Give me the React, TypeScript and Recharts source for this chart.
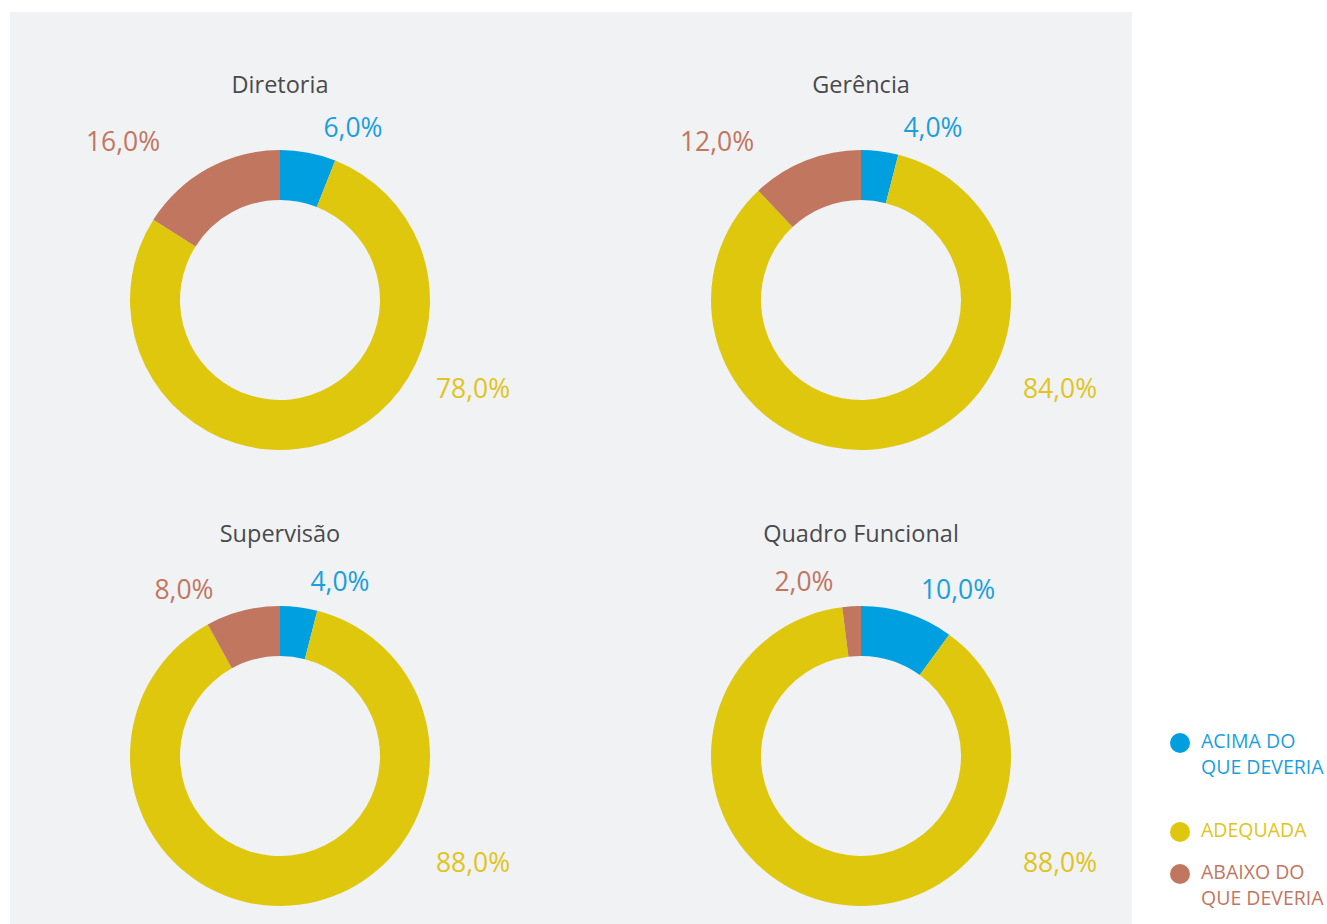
import { PieChart, Pie, Cell } from 'recharts';

// Share of each group, in percent: acima / adequada / abaixo
const categories = ['ACIMA DO QUE DEVERIA', 'ADEQUADA', 'ABAIXO DO QUE DEVERIA'];
const groups = ['Diretoria', 'Gerência', 'Supervisão', 'Quadro Funcional'];
const acima = [6, 4, 4, 10];
const adequada = [78, 84, 88, 88];
const abaixo = [16, 12, 8, 2];

const COLORS = ['#00a0e0', '#dfc70e', '#c1765f'];
const LABEL_COLORS = ['#1a9fdc', '#e0c420', '#c1765f'];
const FONT = '"Open Sans", "Noto Sans", sans-serif';

// where each donut sits on the page, and label offsets from its centre
const CENTERS = [
  { x: 280, y: 300 },
  { x: 861, y: 300 },
  { x: 280, y: 756 },
  { x: 861, y: 756 },
];
const LABEL_OFFSETS = [
  [[73, -173], [193, 88], [-157, -159]],
  [[72, -173], [199, 88], [-144, -159]],
  [[60, -175], [193, 106], [-96, -167]],
  [[97, -167], [199, 106], [-57, -175]],
];
const TITLE_OFFSET = [-216, -216, -223, -223];

const W = 580;
const H = 460;
const CX = 290;
const CY = 260;

const fmt = (v: number) => `${v.toFixed(1).replace('.', ',')}%`;

function Donut({ g }: { g: number }) {
  const data = categories.map((name, i) => ({
    name,
    value: [acima, adequada, abaixo][i][g],
  }));
  const c = CENTERS[g];
  const renderLabel = (p: any) => {
    const i = p.index as number;
    const [dx, dy] = LABEL_OFFSETS[g][i];
    return (
      <text
        x={CX + dx}
        y={CY + dy}
        textAnchor="middle"
        dominantBaseline="central"
        fill={LABEL_COLORS[i]}
        style={{ fontFamily: FONT, fontSize: 26.5 }}
      >
        {fmt(data[i].value)}
      </text>
    );
  };
  return (
    <div style={{ position: 'absolute', left: c.x - CX, top: c.y - CY, width: W, height: H }}>
      <div
        style={{
          position: 'absolute',
          left: 0,
          width: W,
          top: CY + TITLE_OFFSET[g] - 16,
          height: 32,
          lineHeight: '32px',
          textAlign: 'center',
          fontFamily: FONT,
          fontSize: 23.5,
          color: '#4a4a4c',
        }}
      >
        {groups[g]}
      </div>
      <PieChart
        width={W}
        height={H}
        margin={{ top: 0, right: 0, bottom: 0, left: 0 }}
        style={{ position: 'absolute', left: 0, top: 0 }}
      >
        <Pie
          data={data}
          dataKey="value"
          cx={CX}
          cy={CY}
          innerRadius={100}
          outerRadius={150}
          startAngle={90}
          endAngle={-270}
          stroke="none"
          label={renderLabel}
          labelLine={false}
          isAnimationActive={false}
        >
          {data.map((d, i) => (
            <Cell key={d.name} fill={COLORS[i]} />
          ))}
        </Pie>
      </PieChart>
    </div>
  );
}

const LEGEND_ROWS = [
  { lines: ['ACIMA DO', 'QUE DEVERIA'], top: 728 },
  { lines: ['ADEQUADA'], top: 817 },
  { lines: ['ABAIXO DO', 'QUE DEVERIA'], top: 859 },
];

export default function App() {
  return (
    <div style={{ position: 'fixed', left: 0, top: 0, width: 1327, height: 924, background: '#fff', overflow: 'hidden' }}>
      <div style={{ position: 'absolute', left: 10, top: 12, width: 1122, height: 930, background: '#f1f2f4' }} />
      {groups.map((_, g) => (
        <Donut key={g} g={g} />
      ))}
      {LEGEND_ROWS.map((r, i) => (
        <div key={i} style={{ position: 'absolute', left: 1170, top: r.top }}>
          <div
            style={{
              position: 'absolute',
              left: 0,
              top: 5,
              width: 20,
              height: 20,
              borderRadius: 10,
              background: COLORS[i],
            }}
          />
          <div
            style={{
              position: 'absolute',
              left: 31,
              top: 0,
              whiteSpace: 'nowrap',
              fontFamily: FONT,
              fontSize: 19.5,
              lineHeight: '26px',
              color: LABEL_COLORS[i],
            }}
          >
            {r.lines.map((l) => (
              <div key={l}>{l}</div>
            ))}
          </div>
        </div>
      ))}
    </div>
  );
}
